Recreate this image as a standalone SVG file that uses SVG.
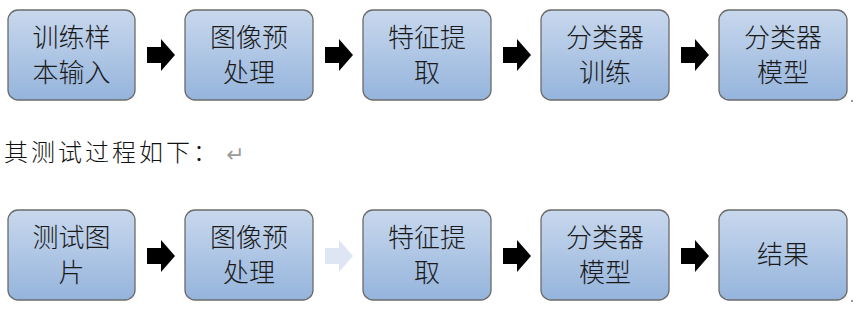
<svg xmlns="http://www.w3.org/2000/svg" width="856" height="311" viewBox="0 0 856 311">
<defs>
<linearGradient id="g" x1="0" y1="0" x2="0" y2="1">
<stop offset="0" stop-color="#c8d8ed"/>
<stop offset="1" stop-color="#95b4dc"/>
</linearGradient>
<path id="arr" d="M0,-8 H14 V-16 L28,0 L14,16 V8 H0 Z"/>
</defs>
<style>
.box{fill:url(#g);stroke:#6b6b6b;stroke-width:1.3}
.t{font-family:"Noto Sans CJK SC","Noto Sans CJK JP",sans-serif;font-size:26px;font-weight:300;fill:#1a1a1a;text-anchor:middle}
.p{font-family:"Noto Sans CJK SC",sans-serif;font-size:24px;font-weight:300;fill:#111;letter-spacing:3px}
</style>
<rect width="856" height="311" fill="#ffffff"/>
<g id="connectors">
<use href="#arr" x="147" y="55" fill="#000"/>
<use href="#arr" x="325" y="55" fill="#000"/>
<use href="#arr" x="503" y="55" fill="#000"/>
<use href="#arr" x="681" y="55" fill="#000"/>
<use href="#arr" x="147" y="256" fill="#000"/>
<use href="#arr" x="325" y="256" fill="#dde6f2"/>
<use href="#arr" x="503" y="256" fill="#000"/>
<use href="#arr" x="681" y="256" fill="#000"/>
</g>
<g id="n1"><rect class="box" x="8" y="10" width="127" height="90" rx="10"/><text class="t" x="71.5" y="47"><tspan x="71.5">训练样</tspan><tspan x="71.5" dy="35">本输入</tspan></text></g>
<g id="n2"><rect class="box" x="185" y="10" width="128" height="90" rx="10"/><text class="t" x="249" y="47"><tspan x="249">图像预</tspan><tspan x="249" dy="35">处理</tspan></text></g>
<g id="n3"><rect class="box" x="363" y="10" width="128" height="90" rx="10"/><text class="t" x="427" y="47"><tspan x="427">特征提</tspan><tspan x="427" dy="35">取</tspan></text></g>
<g id="n4"><rect class="box" x="541" y="10" width="128" height="90" rx="10"/><text class="t" x="605" y="47"><tspan x="605">分类器</tspan><tspan x="605" dy="35">训练</tspan></text></g>
<g id="n5"><rect class="box" x="719" y="10" width="128" height="90" rx="10"/><text class="t" x="783" y="47"><tspan x="783">分类器</tspan><tspan x="783" dy="35">模型</tspan></text></g>
<text class="p" x="4" y="161">其测试过程如下：</text>
<text x="226" y="162" font-family="DejaVu Sans,sans-serif" font-size="22" fill="#9a9a9a">↵</text>
<g id="m1"><rect class="box" x="8" y="210" width="127" height="90" rx="10"/><text class="t" x="71.5" y="247"><tspan x="71.5">测试图</tspan><tspan x="71.5" dy="35">片</tspan></text></g>
<g id="m2"><rect class="box" x="185" y="210" width="128" height="90" rx="10"/><text class="t" x="249" y="247"><tspan x="249">图像预</tspan><tspan x="249" dy="35">处理</tspan></text></g>
<g id="m3"><rect class="box" x="363" y="210" width="128" height="90" rx="10"/><text class="t" x="427" y="247"><tspan x="427">特征提</tspan><tspan x="427" dy="35">取</tspan></text></g>
<g id="m4"><rect class="box" x="541" y="210" width="128" height="90" rx="10"/><text class="t" x="605" y="247"><tspan x="605">分类器</tspan><tspan x="605" dy="35">模型</tspan></text></g>
<g id="m5"><rect class="box" x="719" y="210" width="128" height="90" rx="10"/><text class="t" x="783" y="264">结果</text></g>
<rect x="851" y="100" width="2" height="2" fill="#999"/>
<rect x="851" y="300" width="2" height="2" fill="#999"/>
</svg>
